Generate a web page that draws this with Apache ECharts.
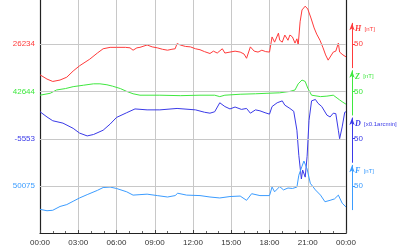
<!DOCTYPE html>
<html><head><meta charset="utf-8">
<script src="https://cdn.jsdelivr.net/npm/echarts@6/dist/echarts.min.js"></script>
<style>html,body{margin:0;padding:0;background:#fff}#c{width:400px;height:250px}</style>
</head><body><div id="c"></div>
<script>
// Time labels (x axis, every 3 hours)
const timeLabels = ['00:00','03:00','06:00','09:00','12:00','15:00','18:00','21:00','00:00'];

// H component [nT]
const hTime = [0,0.55,1.0,1.57,2.1,2.6,3.1,3.9,4.5,4.95,5.5,6.0,6.7,7.06,7.3,7.6,7.84,8.4,8.8,9.2,9.6,10.0,10.35,10.6,10.75,11.0,11.4,11.8,12.2,12.55,12.9,13.33,13.6,13.9,14.3,14.5,14.9,15.3,15.7,16.0,16.2,16.5,16.8,17.1,17.4,17.7,18.0,18.2,18.4,18.7,18.8,19.0,19.2,19.45,19.6,19.8,20.0,20.15,20.25,20.4,20.55,20.8,21.0,21.25,21.5,21.7,21.96,22.2,22.4,22.6,22.75,23.0,23.2,23.4,23.5,23.76,24];
const hValues = [26169,26160,26155,26158,26164,26177,26188,26202,26215,26224,26227,26227,26227,26226,26221,26226,26227,26232,26228,26226,26223,26221,26223,26224,26235,26232,26229,26228,26224,26222,26218,26214,26219,26215,26224,26215,26217,26219,26217,26213,26204,26228,26219,26217,26221,26218,26217,26249,26238,26257,26242,26238,26253,26242,26253,26249,26236,26245,26232,26281,26306,26314,26308,26289,26268,26255,26242,26226,26211,26200,26204,26217,26219,26236,26217,26211,26207];

// Z component [nT]
const zTime = [0,0.8,1.3,2.0,2.6,3.4,4.2,4.7,5.25,5.7,6.3,6.8,7.3,7.84,9.4,11.0,12.55,13.7,14.1,14.5,15.7,16.9,17.8,18.8,19.6,20.0,20.25,20.55,20.8,21.0,21.3,22.0,22.5,23.0,23.3,23.5,23.76,24];
const zValues = [42636,42640,42647,42650,42654,42657,42660,42660,42658,42655,42650,42644,42639,42636,42636,42635,42636,42636,42633,42636,42638,42639,42640,42641,42644,42647,42660,42668,42665,42651,42636,42633,42634,42636,42630,42626,42621,42617];

// D component [x0.1 arcmin]
const dTime = [0,0.55,1.0,1.8,2.6,3.1,3.7,4.2,4.95,5.5,6.0,6.8,7.45,8.4,9.4,10.75,12.2,12.9,13.33,13.7,14.1,14.5,14.9,15.3,15.8,16.2,16.5,16.9,17.25,17.65,18.0,18.2,18.6,19.0,19.2,19.6,19.9,20.15,20.3,20.5,20.6,20.8,20.95,21.1,21.3,21.6,21.8,22.1,22.5,22.75,23.0,23.2,23.4,23.5,23.7,23.9,24];
const dValues = [-5496,-5507,-5515,-5520,-5531,-5541,-5547,-5544,-5535,-5522,-5508,-5498,-5490,-5492,-5492,-5489,-5492,-5497,-5499,-5496,-5477,-5485,-5490,-5486,-5491,-5489,-5499,-5492,-5494,-5498,-5501,-5485,-5477,-5473,-5482,-5489,-5495,-5535,-5588,-5638,-5619,-5634,-5590,-5514,-5473,-5470,-5478,-5485,-5503,-5507,-5499,-5500,-5535,-5553,-5528,-5497,-5496];

// F (total) [nT]
const fTime = [0,0.55,1.0,1.57,2.1,2.6,3.1,3.7,4.5,4.95,5.5,6.0,6.8,7.3,7.84,8.4,9.2,10.0,10.6,10.8,11.5,12.55,13.33,14.1,14.9,15.7,16.2,16.6,17.25,18.0,18.2,18.4,18.8,19.1,19.45,19.8,20.15,20.3,20.55,20.7,20.95,21.2,21.6,22.0,22.35,22.75,23.1,23.4,23.7,24];
const fValues = [50026,50023,50024,50032,50036,50043,50050,50057,50066,50072,50073,50070,50063,50056,50057,50058,50055,50052,50055,50060,50056,50055,50052,50050,50053,50054,50045,50059,50055,50055,50073,50063,50074,50067,50071,50070,50073,50098,50117,50128,50111,50081,50067,50056,50042,50045,50048,50056,50039,50031];

// Reference levels (left labels) and axis ranges
const baselines = [26234, 42644, -5553, 50075];
const axisMin = [25835, 42345, -5752, 49976];
const axisMax = [26327, 42837, -5260, 50468];
const compNames = ['H','Z','D','F'];
const compUnits = ['[nT]','[nT]','[x0.1arcmin]','[nT]'];
const scaleLabel = 50;
const colors = ['#ff3b3b','#3fe83f','#3a3ae8','#3b9cff'];

const times = [hTime, zTime, dTime, fTime];
const vals = [hValues, zValues, dValues, fValues];

const chart = echarts.init(document.getElementById('c'), null, {renderer:'canvas'});

const grids = [{left:40, right:54, top:0, bottom:17, show:false}];
const xAxes = [{
  type:'value', gridIndex:0, min:0, max:24, interval:3,
  axisLine:{show:true, lineStyle:{color:'#222', width:1.2}},
  axisTick:{show:true, inside:true, length:3, lineStyle:{color:'#444'}},
  minorTick:{show:true, splitNumber:3, length:2, lineStyle:{color:'#666'}},
  axisLabel:{show:true, showMinLabel:true, showMaxLabel:true, hideOverlap:false, fontSize:8, color:'#333', margin:6,
    fontFamily:'Liberation Sans', formatter:v => timeLabels[Math.round(v/3)]},
  splitLine:{show:true, lineStyle:{color:'#c8c8c8', width:1}}
}];
const yAxes = [];
const series = [];
// main y axes (one per component, all in grid 0)
for (let k = 0; k < 4; k++) {
  yAxes.push({
    type:'value', gridIndex:0, min:axisMin[k], max:axisMax[k],
    position: k === 3 ? 'right' : 'left',
    show: k === 0 || k === 3,
    axisLine:{show:true, onZero:false, lineStyle:{color:'#222', width:1.2}},
    axisTick:{show:false}, axisLabel:{show:false}, splitLine:{show:false}
  });
  series.push({
    type:'line', xAxisIndex:0, yAxisIndex:k, showSymbol:false, symbol:'none',
    lineStyle:{color:colors[k], width:1}, itemStyle:{color:colors[k]},
    data: times[k].map((t,i) => [t, vals[k][i]]),
    animation:false, silent:true, z:3,
    markLine:{silent:true, symbol:'none', animation:false,
      lineStyle:{color:'#c8c8c8', type:'solid', width:1},
      label:{show:true, position:'start', distance:5, fontSize:8, fontFamily:'Liberation Sans', color:colors[k],
        formatter:String(baselines[k])},
      data:[{yAxis:baselines[k]}]}
  });
}
// right-hand scale bars (one small grid each)
for (let k = 0; k < 4; k++) {
  const yg = 44 + 47.33*k;
  grids.push({left:346, width:6, top:yg-20.7, height:44.4, show:false});
  xAxes.push({type:'value', gridIndex:k+1, show:false, min:0, max:1});
  yAxes.push({
    type:'value', gridIndex:k+1, position:'right', min:0, max:93.7, interval:50,
    axisLine:{show:true, onZero:false, lineStyle:{color:colors[k], width:1}, symbol:['none','arrow'], symbolSize:[4,7]},
    axisTick:{show:true, length:3, customValues:[scaleLabel], lineStyle:{color:colors[k]}},
    axisLabel:{show:true, margin:2, fontSize:8, fontFamily:'Liberation Sans', color:colors[k], customValues:[scaleLabel],
      formatter:v => (v === scaleLabel ? String(scaleLabel) : '')},
    splitLine:{show:false},
    name:'{i|' + compNames[k] + '} {u|' + compUnits[k] + '}',
    nameLocation:'end', nameGap:-6,
    nameTextStyle:{align:'left', verticalAlign:'middle', padding:[0,0,0,3], color:colors[k],
      rich:{i:{fontFamily:'Liberation Serif', fontStyle:'italic', fontWeight:'bold', fontSize:8, color:colors[k]},
            u:{fontFamily:'Liberation Sans', fontSize:6, color:colors[k]}}}
  });
}

chart.setOption({
  backgroundColor:'#fff', animation:false,
  grid:grids, xAxis:xAxes, yAxis:yAxes, series:series
});
</script></body></html>
